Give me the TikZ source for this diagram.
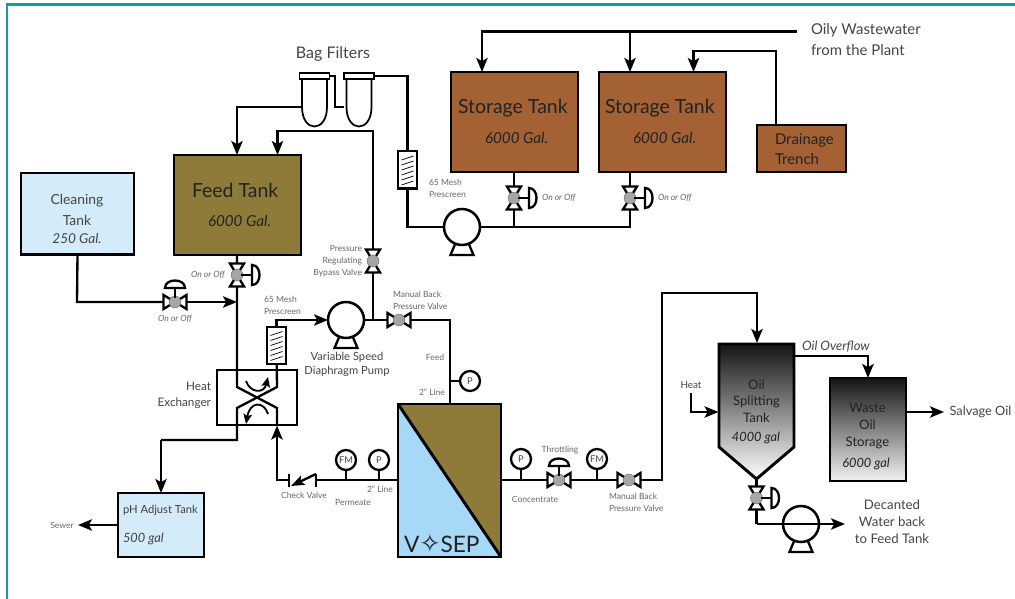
\documentclass[tikz,border=0pt]{standalone}
\usepackage{fontspec}
\setmainfont{Lato}
\newfontfamily\starfont{DejaVu Sans}
\usetikzlibrary{arrows.meta,backgrounds,calc}
\definecolor{frameC}{HTML}{0F9FA0}
\definecolor{skyC}{HTML}{D4EBF9}
\definecolor{oliveC}{HTML}{8E7A39}
\definecolor{rustC}{HTML}{A46234}
\definecolor{vosepC}{HTML}{A6D8F7}
\definecolor{smallC}{HTML}{666666}
\definecolor{midC}{HTML}{444444}
\definecolor{darkC}{HTML}{222222}
\newcommand\fs[2]{\fontsize{#1}{#2}\selectfont}
\tikzset{
 every node/.style={inner sep=0pt,outer sep=0pt},
 pipe/.style={line width=1.75pt,line join=miter},
 flow/.style={pipe,-{Stealth[length=10.5pt,width=8.5pt,inset=2.4pt]}},
 tankbox/.style={draw=black,line width=2.2pt},
 symline/.style={draw=black,line width=1.75pt,fill=white,line join=miter},
 gatedot/.style={circle,minimum size=9pt,fill=black!35,draw=black!60,line width=.3pt},
 pumpdisc/.style={circle,minimum size=27pt,draw=black,line width=1.9pt,fill=white},
 gauge/.style={circle,minimum size=15pt,draw=black,line width=1.75pt,fill=white,text=midC,font=\fs{7}{8}},
 tiny/.style={text=smallC,font=\fs{6.4}{9},align=left},
 tinyit/.style={text=smallC,font=\fs{6.4}{9}\itshape},
 midlabel/.style={text=midC,font=\fs{8.6}{12.8},align=center},
 biglabel/.style={text=darkC,font=\fs{14.6}{16}},
 gallabel/.style={text=darkC,font=\fs{11.4}{12}\itshape},
}
\newcommand\tank[6]{\node[tankbox,fill=#6,minimum width={(#4-#2)*0.75pt},minimum height={(#5-#3)*0.75pt}] (#1) at ({(#2+#4)/2},{(#3+#5)/2}) {};}
\newcommand\vvalve[3]{\draw[symline] (#2-7,#3-11.5) -- (#2+7,#3-11.5) -- (#2-7,#3+11.5) -- (#2+7,#3+11.5) -- cycle;
 \node[gatedot] (#1) at (#2,#3) {};}
\newcommand\hvalve[3]{\draw[symline] (#2-11.5,#3-7) -- (#2-11.5,#3+7) -- (#2+11.5,#3-7) -- (#2+11.5,#3+7) -- cycle;
 \node[gatedot] (#1) at (#2,#3) {};}
\newcommand\dhandle[2]{\draw[pipe] (#1+4,#2) -- (#1+15,#2);
 \draw[symline] (#1+15,#2-10) .. controls (#1+25,#2-10) and (#1+25,#2+10) .. (#1+15,#2+10) -- cycle;}
\newcommand\thandle[2]{\draw[pipe] (#1,#2-4) -- (#1,#2-14);
 \draw[symline] (#1-10,#2-14) .. controls (#1-10,#2-24) and (#1+10,#2-24) .. (#1+10,#2-14) -- cycle;}
\newcommand\pump[3]{\draw[symline] (#2-6,#3+15) -- (#2-11.5,#3+28) -- (#2+11.5,#3+28) -- (#2+6,#3+15) -- cycle;
 \node[pumpdisc] (#1) at (#2,#3) {};}
\newcommand\prescreen[3]{\node[draw=black,line width=1.75pt,fill=white,minimum width=14.25pt,minimum height=28pt] (#1) at (#2,#3) {};
 \foreach \dy in {-14,-9,-4,1,6,11} \draw[black,line width=.55pt] (#2-6,#3+\dy+4) -- (#2+6,#3+\dy);}
\newcommand\bagfilter[3]{\draw[symline,line width=1.3pt] (#2-12.5,#3) -- (#2-12.5,#3+28) .. controls (#2-12.5,#3+54) and (#2+12.5,#3+54) .. (#2+12.5,#3+28) -- (#2+12.5,#3) -- cycle;
 \node[draw=black,line width=1.3pt,fill=white,minimum width=22.5pt,minimum height=5pt] (#1) at (#2,#3-3) {};
 \coordinate (#1side) at (#2,#3+31);}
\begin{document}
\begin{tikzpicture}[x=0.75pt,y=-0.75pt]
\useasboundingbox (0,0) rectangle (1015,599);
\draw[frameC,line width=2pt] (7,599) -- (7,4.5) -- (1015,4.5);

% tanks
\tank{clean}{21}{173}{134}{254.5}{skyC}
\tank{feed}{174}{155}{301}{255}{oliveC}
\tank{st1}{451}{72}{578}{172}{rustC}
\tank{st2}{599}{72}{726}{172}{rustC}
\tank{trench}{757}{125}{846}{172}{rustC}
\tank{ph}{118}{493}{204}{557}{skyC}
\node[minimum width=56.25pt,minimum height=77pt] (oil) at (756.5,395.5) {};
\draw[tankbox,top color=black!92,bottom color=white,line join=miter] (719,344) -- (794,344) -- (794,447) -- (756.5,479) -- (719,447) -- cycle;
\node[tankbox,top color=black!92,bottom color=black!5,minimum width=57pt,minimum height=77.25pt] (waste) at (868,429.5) {};
\node[minimum width=77.25pt,minimum height=114.75pt] (vosep) at (449.5,480.5) {};
\fill[vosepC] (398,404) -- (501,557) -- (398,557) -- cycle;
\fill[oliveC] (398,404) -- (501,404) -- (501,557) -- cycle;
\draw[tankbox,line join=miter] (vosep.north west) rectangle (vosep.south east);
\draw[black,line width=2.2pt] (vosep.north west) -- (vosep.south east);

% pumps, valves, filters
\pump{pa}{462}{227}
\pump{pb}{346}{320}
\pump{pc}{801}{524}
\vvalve{vst1}{514}{198}\dhandle{514}{198}
\vvalve{vst2}{630}{198}\dhandle{630}{198}
\vvalve{vfeed}{237}{275}\dhandle{237}{275}
\vvalve{vbypass}{373}{261}
\vvalve{voil}{756.5}{498}\dhandle{756.5}{498}
\hvalve{vclean}{175}{302}\thandle{175}{302}
\hvalve{vback}{399}{320}
\hvalve{vthrot}{559}{480}\thandle{559}{480}
\hvalve{vmback}{629}{480}
\bagfilter{bfa}{314.5}{79}
\bagfilter{bfb}{359}{79}
\prescreen{psa}{407.5}{170}
\prescreen{psb}{276.5}{345.5}

% heat exchanger
\node[draw=black,line width=1.75pt,minimum width=60pt,minimum height=41.25pt] (hx) at (257,397.5) {};
\coordinate (hxaa) at (237,387);
\coordinate (hxab) at (277,408);
\coordinate (hxbb) at (277,387);
\coordinate (hxba) at (237,408);
\draw[-{Stealth[length=7.5pt,width=6.5pt,inset=1.5pt]},line width=1.4pt] (246,381) .. controls (250,393) and (264,394) .. (268,377);
\draw[-{Stealth[length=7.5pt,width=6.5pt,inset=1.5pt]},line width=1.4pt] (268,414) .. controls (264,401) and (250,401) .. (246,424);

% gauges
\node[gauge] (gfa) at (346,460) {FM};
\node[gauge] (gpa) at (379,460) {P};
\node[gauge] (gpb) at (470,381) {P};
\node[gauge] (gpc) at (521,459) {P};
\node[gauge] (gfb) at (597,459) {FM};

% check valve
\coordinate (cvl) at (289,480);
\coordinate (cvr) at (316,480);
\draw[pipe] (289,474) -- (289,487);
\draw[pipe] (316,474) -- (316,487);
\draw[line width=1.75pt,-{Stealth[length=10pt,width=7.5pt,inset=2pt]}] (316,474) -- (291,486);

% free ends
\coordinate (wwin) at (797,31.5);
\coordinate (wwa) at (482,31.5);
\coordinate (wwb) at (630,31.5);
\coordinate (sewer) at (78,525);
\coordinate (salv) at (944,412);
\coordinate (heatin) at (691,393);
\coordinate (dec) at (845,524);

\begin{scope}[on background layer]
 % wastewater
 \draw[pipe] (wwin) -- (wwb);
 \draw[flow] (wwb) -- (wwa) -- (wwa |- st1.north);
 \draw[flow] (wwb) -- (wwb |- st2.north);
 \draw[flow] (776,125) -- (776,51) -- (693.5,51) -- (693.5,72);
 % storage to pump
 \draw[pipe] (st1.south -| vst1) -- (vst1) -- (vst1 |- pa);
 \draw[pipe] (st2.south -| vst2) -- (vst2) -- (vst2 |- pa) -- (pa);
 % pump to bag filters
 \draw[pipe] (pa) -| (psa);
 \draw[pipe] (psa) -- (bfb.east -| psa) -- (bfb.east);
 \draw[pipe] (bfa.east) -- (335,76) -- (335,107) -- (bfb.west |- 0,107);
 \draw[flow] (302,107) -- (237,107) -- (237,155);
 % recycle
 \draw[flow] (vbypass |- pb) -- (vbypass) -- (373,131) -- (277.5,131) -- (277.5,155);
 % feed tank to exchanger
 \draw[pipe] (feed.south -| vfeed) -- (vfeed) -- (hxaa) -- (hxab) -- (hxab |- hx.south);
 \draw[pipe] (psb) -- (hxbb) -- (hxba) -- (hxba |- hx.south) -- (237,440) -- (161,440);
 \draw[flow] (161,440) -- (161,493);
 \draw[pipe] (clean.south) -- (77,302) -- (vclean);
 \draw[flow] (vclean) -- (vfeed |- vclean);
 % prescreen and pump
 \draw[flow] (psb) -- (276.5,320) -- (pb.west);
 \draw[pipe] (pb) -- (vback);
 \draw[pipe] (vback) -- (450,320) -- (450,404);
 \draw[pipe] (450,381) -- (gpb);
 % permeate
 \draw[pipe] (398,480) -- (cvr);
 \draw[pipe] (gfa) -- (346,480);
 \draw[pipe] (gpa) -- (379,480);
 \draw[flow] (cvl) -- (277,480) -- (277,425.5);
 % concentrate
 \draw[pipe] (501,480) -- (vmback);
 \draw[pipe] (gpc) -- (521,480);
 \draw[pipe] (gfb) -- (597,480);
 \draw[flow] (vmback) -- (662,480) -- (662,293) -- (757,293) -- (757,343);
 % oil tank
 \draw[flow] (heatin) -- (691,412) -- (718.5,412);
 \draw[flow] (794,356) -- (868,356) -- (868,378);
 \draw[flow] (waste.east |- salv) -- (salv);
 \draw[flow] (ph.west |- sewer) -- (sewer);
 \draw[pipe] (756.5,479) -- (voil) -- (voil |- pc);
 \draw[pipe] (voil |- pc) -- (pc);
\end{scope}
\draw[flow] (pc.center) ++(-18,0) -- (dec);

% tank labels
\node[midlabel,font=\fs{10.4}{15.75}] (tclean) at (77,209.5) {Cleaning\\Tank};
\node[midlabel,font=\fs{10.2}{12}\itshape] (tcleang) at (77,239) {250 Gal.};
\node[biglabel,anchor=west] (tfeed) at (192,190) {Feed Tank};
\node[gallabel,anchor=west] (tfeedg) at (208,221) {6000 Gal.};
\node[biglabel,anchor=west] (tsta) at (458,108) {Storage Tank};
\node[gallabel,anchor=west] (tstag) at (485,138) {6000 Gal.};
\node[biglabel,anchor=west] (tstb) at (605,108) {Storage Tank};
\node[gallabel,anchor=west] (tstbg) at (633,138) {6000 Gal.};
\node[midlabel,text=darkC,font=\fs{11.2}{15},align=left,anchor=west] (ttrench) at (775,149) {Drainage\\Trench};
\node[midlabel,text=black!75,font=\fs{8.4}{10},anchor=west] (tph) at (123,510) {pH Adjust Tank};
\node[midlabel,font=\fs{9.6}{10}\itshape,anchor=west] (tphg) at (123,539) {500 gal};
\node[midlabel,text=darkC,font=\fs{9.8}{12.4}] (toil) at (756.5,401) {Oil\\Splitting\\Tank};
\node[midlabel,text=darkC,font=\fs{9.6}{10}\itshape] (toilg) at (756,438) {4000 gal};
\node[midlabel,text=darkC,font=\fs{9.8}{12.6}] (twaste) at (867.5,426) {Waste\\Oil\\Storage};
\node[midlabel,text=darkC,font=\fs{9.6}{10}\itshape] (twasteg) at (866,464) {6000 gal};
\node[text=darkC,font=\fs{17}{20},anchor=west] (tvosep) at (404,543) {V{\starfont\fs{19}{20}✧}SEP};

% other labels
\node[midlabel,font=\fs{11.2}{15.75},align=left,anchor=west] (toily) at (811,39.5) {Oily Wastewater\\from the Plant};
\node[midlabel,font=\fs{12}{12}] (tbag) at (333,54) {Bag Filters};
\node[midlabel,font=\fs{8.8}{11.5},align=right,anchor=east] (thx) at (211,395.5) {Heat\\Exchanger};
\node[midlabel,font=\fs{8.4}{10}] (tvar) at (347,364.5) {Variable Speed\\Diaphragm Pump};
\node[midlabel,font=\fs{7.4}{10}] (theat) at (691,385) {Heat};
\node[midlabel,font=\fs{9.7}{10}\itshape,anchor=west] (tover) at (802,347) {Oil Overflow};
\node[midlabel,font=\fs{9.6}{12.75}] (tsalv) at (980.5,412) {Salvage Oil};
\node[midlabel,font=\fs{9.9}{12.75}] (tdec) at (892,522) {Decanted\\Water back\\to Feed Tank};
\node[tiny,anchor=west] (tmeshb) at (429,188) {65 Mesh\\Prescreen};
\node[tiny,anchor=west] (tmesha) at (264,305) {65 Mesh\\Prescreen};
\node[tiny,align=right,anchor=east] (tprv) at (362,261) {Pressure\\Regulating\\Bypass Valve};
\node[tiny,anchor=west] (tbpa) at (393,300) {Manual Back\\Pressure Valve};
\node[tiny,anchor=west] (tbpb) at (609,502) {Manual Back\\Pressure Valve};
\node[tiny] (tfeedl) at (435,357) {Feed};
\node[tiny] (tlinea) at (432,392) {2" Line};
\node[tiny] (tlineb) at (380,489) {2" Line};
\node[tiny] (tcheck) at (304,495) {Check Valve};
\node[tiny] (tperm) at (353,502) {Permeate};
\node[tiny] (tconc) at (535,499) {Concentrate};
\node[tiny] (tthrot) at (560,450) {Throttling};
\node[tiny] (tsewer) at (62,525) {Sewer};
\node[tinyit] (toofa) at (208,275) {On or Off};
\node[tinyit] (toofb) at (175,319) {On or Off};
\node[tinyit,anchor=west] (toofc) at (542,198) {On or Off};
\node[tinyit,anchor=west] (toofd) at (658,198) {On or Off};
\end{tikzpicture}
\end{document}
